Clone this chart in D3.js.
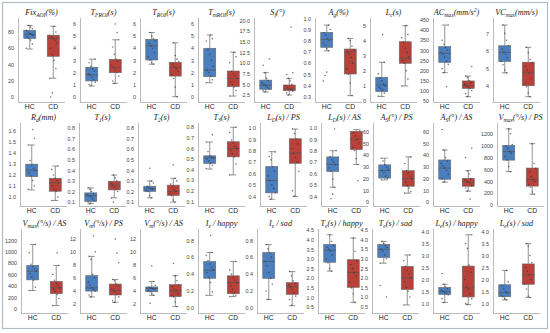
<!DOCTYPE html>
<html><head><meta charset="utf-8">
<script src="https://cdn.jsdelivr.net/npm/d3@7"></script>
<style>body{margin:0;background:#fff}svg{display:block}</style>
</head><body><svg id="c" width="550" height="333"></svg>
<script>
const groups = ["HC", "CD"];
// title segments: [text, kind] kind: m=main, s=subscript, p=superscript
const panelTitles = [
 [["Fix","m"],["AOI","s"],["(%)","m"]],
 [["T","m"],["FROI","s"],["(s)","m"]],
 [["T","m"],["ROI","s"],["(s)","m"]],
 [["T","m"],["mROI","s"],["(s)","m"]],
 [["S","m"],["f","s"],["(°)","m"]],
 [["A","m"],["g","s"],["(%)","m"]],
 [["L","m"],["c","s"],["(s)","m"]],
 [["AC","m"],["max","s"],["(mm/s","m"],["2","p"],[")","m"]],
 [["VC","m"],["max","s"],["(mm/s)","m"]],
 [["R","m"],["d","s"],["(mm)","m"]],
 [["T","m"],["1","s"],["(s)","m"]],
 [["T","m"],["2","s"],["(s)","m"]],
 [["T","m"],["3","s"],["(s)","m"]],
 [["L","m"],["D","s"],["(s) / PS","m"]],
 [["L","m"],["D","s"],["(s) / AS","m"]],
 [["A","m"],["S","s"],["(°) / PS","m"]],
 [["A","m"],["S","s"],["(°) / AS","m"]],
 [["V","m"],["max","s"],["(°/s) / PS","m"]],
 [["V","m"],["max","s"],["(°/s) / AS","m"]],
 [["V","m"],["m","s"],["(°/s) / PS","m"]],
 [["V","m"],["m","s"],["(°/s) / AS","m"]],
 [["I","m"],["e","s"],[" / happy","m"]],
 [["I","m"],["e","s"],[" / sad","m"]],
 [["T","m"],["e","s"],["(s) / happy","m"]],
 [["T","m"],["e","s"],["(s) / sad","m"]],
 [["L","m"],["e","s"],["(s) / happy","m"]],
 [["L","m"],["e","s"],["(s) / sad","m"]]
];
const yTicks = [
 ["0","20","40","60","80"],
 ["0","1","2","3","4","5","6"],
 ["0","1","2","3","4","5","6"],
 ["0","1","2","3","4","5","6"],
 ["2.5","5.0","7.5","10.0","12.5","15.0","17.5","20.0"],
 ["0.3","0.4","0.5","0.6","0.7","0.8","0.9","1.0"],
 ["0","1","2","3","4","5"],
 ["50","100","150","200","250","300","350","400","450"],
 ["4","5","6","7"],
 ["1.0","1.1","1.2","1.3","1.4","1.5","1.6"],
 ["0.1","0.2","0.3","0.4","0.5","0.6","0.7","0.8"],
 ["0.1","0.2","0.3","0.4","0.5","0.6","0.7","0.8"],
 ["0.1","0.2","0.3","0.4","0.5","0.6","0.7","0.8"],
 ["0.4","0.5","0.6","0.7","0.8","0.9","1.0"],
 ["0.4","0.5","0.6","0.7","0.8","0.9","1.0"],
 ["0","10","20","30","40","50","60"],
 ["0","10","20","30","40","50","60"],
 ["0","200","400","600","800","1000","1200"],
 ["0","200","400","600","800","1000","1200"],
 ["2","4","6","8","10","12"],
 ["2","4","6","8","10","12"],
 ["0.0","0.2","0.4","0.6","0.8"],
 ["0.0","0.2","0.4","0.6","0.8"],
 ["0.5","1.0","1.5","2.0","2.5","3.0","3.5","4.0","4.5"],
 ["0.5","1.0","1.5","2.0","2.5","3.0","3.5","4.0","4.5"],
 ["1.0","1.5","2.0","2.5","3.0","3.5","4.0"],
 ["1.0","1.5","2.0","2.5","3.0","3.5","4.0"]
];
const yDomains = [
 [-6.2,97.2],[-0.44,6.5],[-0.44,6.5],[-0.44,6.5],[0.85,20.6],[0.253,1.003],[-0.09,5.51],[43.6,460],[3.07,7.88],
 [0.92,1.668],[0.063,0.847],[0.063,0.847],[0.056,0.84],[0.316,1.043],[0.316,1.043],[-3.4,67.6],[-3.4,67.6],[-15,1382],
 [-73,1398],[0.5,13.55],[0.5,13.55],[-0.06,0.934],[-0.06,0.934],[0.2,4.55],[0.16,4.56],[0.6,4.11],[0.6,4.11]
];
// box stats: [whiskerLow, q1, median, q3, whiskerHigh]
const hcStats = [
 [59,72,77,82,88],[0.88,1.3,1.8,2.43,3.1],[2.68,3.03,4.2,4.74,5.3],[1.15,1.65,2.2,4.0,5.1],[3.2,3.84,4.8,6.0,7.75],
 [0.71,0.741,0.81,0.875,0.94],[0.27,0.6,1.05,1.56,2.56],[189,240,285,318,425],[4.74,5.39,5.91,6.29,7.48],
 [1.065,1.185,1.243,1.297,1.47],[0.085,0.107,0.16,0.187,0.234],[0.14,0.2,0.225,0.25,0.30],[0.405,0.458,0.51,0.53,0.66],
 [0.375,0.431,0.54,0.662,0.792],[0.48,0.619,0.68,0.746,0.8],[18.9,20.5,27,31.8,37.5],[17,19.5,29,36,44.5],
 [564,757,900,1006,1283],[321,507,660,760,1127],[3.0,3.9,4.4,6.3,9.3],[3.25,3.8,4.3,4.55,5.4],
 [0.149,0.351,0.446,0.549,0.656],[0.1,0.35,0.55,0.656,0.75],[2.37,2.83,3.45,3.75,4.25],[2.77,3.07,3.5,3.75,3.91],
 [1.04,1.375,1.5,1.67,1.8],[1.15,1.28,1.45,1.78,2.38]
];
const cdStats = [
 [23,50,72,76,87],[1.1,1.98,2.4,3.08,4.7],[0,1.7,2.4,2.84,4.45],[0.05,0.83,1.5,2.12,3.67],[2.5,3.5,3.9,4.85,6.4],
 [0.31,0.503,0.70,0.726,0.82],[0.98,2.49,2.83,3.93,5.0],[70,111,125,148,172],[3.37,4.0,4.77,5.35,6.2],
 [0.97,1.053,1.13,1.17,1.28],[0.14,0.215,0.26,0.296,0.355],[0.1,0.163,0.2,0.26,0.324],[0.35,0.52,0.6,0.663,0.8],
 [0.4,0.69,0.78,0.905,0.99],[0.68,0.81,0.9,0.97,0.985],[7.6,13.5,20,26.8,38.6],[9.3,13.5,17,20.3,26.8],
 [183,320,430,624,1034],[57,265,370,480,760],[2.15,3.3,4.0,5.0,5.7],[1.5,3.05,3.9,4.9,6.3],
 [0.134,0.168,0.3,0.38,0.55],[0.027,0.16,0.25,0.30,0.43],[0.75,1.53,2.3,2.96,4.08],[0.58,1.39,2.0,2.6,3.2],
 [0.95,1.27,1.65,2.56,3.87],[1.25,1.8,2.2,2.65,3.5]
];
const hcPoints = [
 [60,65,70,72,74,76,77,78,80,82,84,86,88],
 [0.9,1.0,1.2,1.4,1.6,1.8,1.9,2.1,2.3,2.5,2.8,3.1],
 [2.7,2.8,3.0,3.3,3.6,4.0,4.2,4.4,4.6,4.8,5.0,5.3],
 [1.15,1.4,1.7,2.0,2.2,2.5,3.0,3.5,3.9,4.6,4.8,5.1],
 [3.2,3.5,3.9,4.3,4.7,5.0,5.4,5.9,6.4,7.75,9.5,11],
 [0.71,0.73,0.76,0.78,0.8,0.82,0.85,0.87,0.9,0.94,0.52,0.49,0.44],
 [0.3,0.5,0.7,0.8,0.9,1.0,1.1,1.3,1.5,1.8,2.55,4.4],
 [189,210,230,245,265,280,290,300,315,330,350,425,120],
 [4.74,4.9,5.2,5.4,5.6,5.8,5.95,6.1,6.3,6.6,7.0,7.48],
 [1.07,1.1,1.15,1.19,1.22,1.24,1.26,1.29,1.33,1.47,1.53,1.61],
 [0.085,0.1,0.11,0.13,0.15,0.16,0.17,0.18,0.2,0.22,0.234],
 [0.14,0.16,0.2,0.21,0.22,0.23,0.24,0.25,0.28,0.3,0.42],
 [0.41,0.44,0.46,0.48,0.5,0.51,0.52,0.53,0.57,0.66,0.73],
 [0.375,0.4,0.43,0.47,0.5,0.54,0.58,0.62,0.66,0.72,0.75,0.79],
 [0.48,0.55,0.62,0.65,0.68,0.7,0.72,0.75,0.8,0.99,0.42,0.38],
 [19,20,22,25,27,28,30,32,35,37.5],
 [17,20,24,27,29,31,33,35,38,44.5,62],
 [564,650,760,820,870,900,950,990,1020,1200,1283],
 [321,380,500,560,620,660,700,740,780,980,1127],
 [3.0,3.3,3.9,4.2,4.4,4.8,5.3,6.0,6.5,8.8,9.3,10,12.5],
 [3.25,3.5,3.8,4.0,4.2,4.3,4.4,4.5,4.8,5.4,7.8,2.0],
 [0.15,0.19,0.3,0.36,0.42,0.45,0.48,0.52,0.56,0.62,0.656,0.86],
 [0.1,0.2,0.28,0.35,0.42,0.5,0.55,0.6,0.65,0.7,0.75],
 [2.37,2.5,2.8,3.0,3.2,3.4,3.5,3.6,3.7,3.9,4.25],
 [2.77,3.0,3.2,3.4,3.5,3.6,3.7,3.8,3.91,1.6,1.0],
 [1.04,1.2,1.35,1.4,1.45,1.5,1.55,1.6,1.7,1.8,2.25],
 [1.15,1.2,1.28,1.35,1.45,1.5,1.6,1.75,1.9,2.38]
];
const cdPoints = [
 [23,35,45,52,60,66,70,72,74,76,80,87,5,0],
 [1.1,1.3,1.7,2.0,2.2,2.4,2.6,2.9,3.1,3.5,4.1,4.7,5.3,6.0],
 [0,0.8,1.5,1.8,2.1,2.3,2.5,2.7,2.9,3.1,3.4,4.45],
 [0.05,0.5,0.8,1.0,1.2,1.5,1.7,1.9,2.1,2.8,3.3,3.67],
 [2.5,3.0,3.4,3.7,3.9,4.2,4.6,5.0,5.8,6.4,7.3,7.7,18.5],
 [0.31,0.42,0.5,0.55,0.6,0.65,0.68,0.70,0.72,0.75,0.8,0.82],
 [0.98,1.45,2.0,2.5,2.7,2.9,3.2,3.5,3.9,4.2,4.4,5.0],
 [70,85,100,110,118,125,132,140,150,165,172,219],
 [3.37,3.6,3.95,4.1,4.4,4.7,4.9,5.1,5.3,5.5,5.9,6.2],
 [0.97,1.0,1.05,1.07,1.1,1.13,1.15,1.17,1.2,1.25,1.28],
 [0.1,0.14,0.2,0.22,0.24,0.26,0.28,0.3,0.33,0.355],
 [0.1,0.12,0.16,0.18,0.2,0.22,0.25,0.27,0.3,0.324,0.45],
 [0.35,0.45,0.52,0.55,0.58,0.6,0.62,0.65,0.68,0.75,0.8],
 [0.4,0.45,0.62,0.7,0.74,0.78,0.82,0.86,0.9,0.95,0.99],
 [0.68,0.73,0.8,0.83,0.87,0.9,0.93,0.96,0.98,0.54],
 [7.6,9,12,14,17,20,22,25,27,33,38.6],
 [9.3,12,14,16,17,18,19,20,24,26.8,38,46,2.5],
 [183,220,300,350,400,430,480,560,620,700,1034],
 [57,180,250,300,340,370,410,450,500,600,760,980],
 [2.15,2.4,3.0,3.4,3.8,4.0,4.3,4.7,5.0,5.5,5.7,8.3,9.8,12],
 [1.5,2.2,3.0,3.2,3.5,3.9,4.2,4.6,4.9,5.5,6.3,8.2],
 [0.134,0.15,0.18,0.22,0.26,0.3,0.33,0.36,0.4,0.45,0.55],
 [0.03,0.1,0.14,0.18,0.22,0.25,0.27,0.29,0.32,0.38,0.43],
 [0.75,1.2,1.5,1.8,2.1,2.3,2.5,2.7,2.9,3.4,4.08],
 [0.58,1.0,1.3,1.5,1.8,2.0,2.2,2.4,2.6,2.9,3.2],
 [0.95,1.0,1.2,1.4,1.6,1.7,2.0,2.3,2.6,3.3,3.5,3.87],
 [1.25,1.3,1.6,1.8,2.0,2.2,2.35,2.5,2.7,3.0,3.4,3.5]
];

// layout
const rowY = [[18,102],[123,206],[229,313]];
const colX = [[18,80,140,198,254,315,370,433,493],[20,79,138,198,260,321,373,433,497],[21,80,140,198,257,318,372,433,493]];
const plotW = 47, boxW = 12;
const colors = {HC:"#4a7ebf", CD:"#b8413a"};
const edge = "#666";

const svg = d3.select("#c");
svg.append("rect").attr("x",2.5).attr("y",2.5).attr("width",545).attr("height",326)
  .attr("fill","none").attr("stroke","#b4bcc6").attr("stroke-width",1.2);

panelTitles.forEach((title, i) => {
  const r = Math.floor(i/9), c = i%9;
  const x0 = colX[r][c], [yTop, yBot] = rowY[r];
  const g = svg.append("g");
  const x = d3.scaleBand().domain(groups).range([x0, x0+plotW]).padding(0);
  const y = d3.scaleLinear().domain(yDomains[i]).range([yBot, yTop]);
  const tickVals = yTicks[i].map(Number);
  const ax = g.append("g").attr("transform",`translate(${x0},0)`)
    .call(d3.axisLeft(y).tickValues(tickVals).tickSize(0).tickPadding(4)
      .tickFormat((d,k)=>yTicks[i][k]));
  ax.select(".domain").remove();
  ax.selectAll("text").attr("font-family","Liberation Sans, Arial, sans-serif").attr("font-size",5.4).attr("fill","#444");
  // spines
  g.append("line").attr("x1",x0+0.5).attr("x2",x0+0.5).attr("y1",yTop).attr("y2",yBot).attr("stroke","#aaa").attr("stroke-width",0.8);
  g.append("line").attr("x1",x0).attr("x2",x0+plotW).attr("y1",yBot+0.5).attr("y2",yBot+0.5).attr("stroke","#aaa").attr("stroke-width",0.8);
  // x labels
  const xa = g.append("g").attr("transform",`translate(0,${yBot})`)
    .call(d3.axisBottom(x).tickSize(0).tickPadding(2.5));
  xa.select(".domain").remove();
  xa.selectAll("text").attr("font-family","Liberation Sans, Arial, sans-serif").attr("font-size",6.8).attr("fill","#222");
  // boxes
  const stats = {HC: hcStats[i], CD: cdStats[i]};
  const pts = {HC: hcPoints[i], CD: cdPoints[i]};
  groups.forEach(gr => {
    const cx = x(gr) + x.bandwidth()/2;
    const [lo,q1,md,q3,hi] = stats[gr];
    g.append("line").attr("x1",cx).attr("x2",cx).attr("y1",y(hi)).attr("y2",y(q3)).attr("stroke",edge).attr("stroke-width",0.7);
    g.append("line").attr("x1",cx).attr("x2",cx).attr("y1",y(q1)).attr("y2",y(lo)).attr("stroke",edge).attr("stroke-width",0.7);
    [hi,lo].forEach(v => g.append("line").attr("x1",cx-boxW/4).attr("x2",cx+boxW/4).attr("y1",y(v)).attr("y2",y(v)).attr("stroke",edge).attr("stroke-width",0.7));
    g.append("rect").attr("x",cx-boxW/2).attr("y",y(q3)).attr("width",boxW).attr("height",Math.max(0.5,y(q1)-y(q3)))
      .attr("fill",colors[gr]).attr("stroke",edge).attr("stroke-width",0.6);
    g.append("line").attr("x1",cx-boxW/2).attr("x2",cx+boxW/2).attr("y1",y(md)).attr("y2",y(md)).attr("stroke","#555").attr("stroke-width",0.7);
    pts[gr].forEach((v,k) => {
      const jit = (((k*7+i*3)%9)-4)/4*3.5;
      g.append("circle").attr("cx",cx+jit).attr("cy",y(v)).attr("r",0.8).attr("fill","#333").attr("opacity",0.65);
    });
  });
  // title
  const t = g.append("text").attr("x",x0+plotW/2).attr("y",yTop-3).attr("text-anchor","middle")
    .attr("font-family","Liberation Serif, Times New Roman, serif").attr("font-style","italic").attr("font-size",8.2).attr("fill","#222");
  title.forEach(([txt,kind],k) => {
    const ts = t.append("tspan").text(txt);
    if (kind==="s") ts.attr("font-size",5.6).attr("dy",1.6);
    else if (kind==="p") ts.attr("font-size",5.6).attr("dy", title[k-1][1]==="s" ? -4.8 : -3.2);
    else if (k>0 && title[k-1][1]==="s") ts.attr("dy",-1.6);
    else if (k>0 && title[k-1][1]==="p") ts.attr("dy",3.2);
  });
});
</script></body></html>
